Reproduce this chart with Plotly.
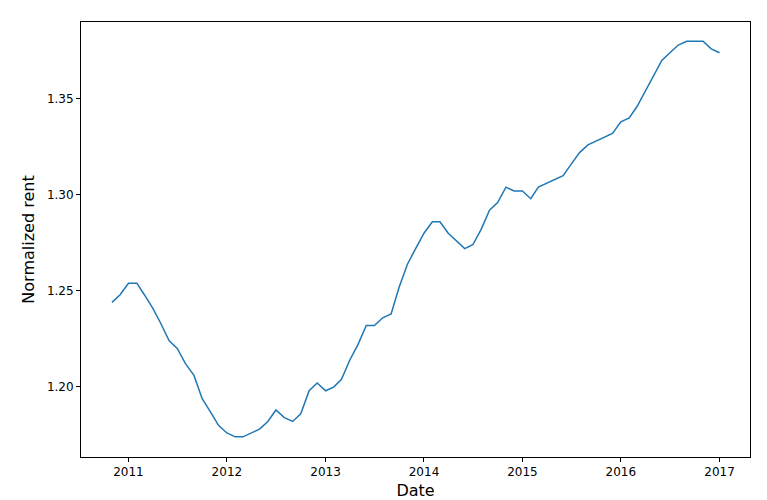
import pandas as pd
import plotly.graph_objects as go

dates = pd.date_range("2010-11-01", "2017-01-01", freq="MS")
rent = [1.244, 1.248, 1.254, 1.254, 1.248, 1.241, 1.233, 1.224, 1.220, 1.212,
        1.206, 1.194, 1.187, 1.180, 1.176, 1.174, 1.174, 1.176, 1.178, 1.182,
        1.188, 1.184, 1.182, 1.186, 1.198, 1.202, 1.198, 1.200, 1.204, 1.214,
        1.222, 1.232, 1.232, 1.236, 1.238, 1.252, 1.264, 1.272, 1.280, 1.286,
        1.286, 1.280, 1.276, 1.272, 1.274, 1.282, 1.292, 1.296, 1.304, 1.302,
        1.302, 1.298, 1.304, 1.306, 1.308, 1.310, 1.316, 1.322, 1.326, 1.328,
        1.330, 1.332, 1.338, 1.340, 1.346, 1.354, 1.362, 1.370, 1.374, 1.378,
        1.380, 1.380, 1.380, 1.376, 1.374]

fig = go.Figure(go.Scatter(x=dates, y=rent, mode="lines",
                           line=dict(color="#1f77b4", width=1.5)))
axis = dict(showgrid=False, zeroline=False, showline=True, mirror=True,
            linecolor="black", linewidth=1, ticks="outside", ticklen=4,
            tickcolor="black", tickfont=dict(size=12, color="black"),
            automargin=False)
fig.update_layout(
    width=767, height=500,
    margin=dict(l=73, r=25, t=14, b=51, autoexpand=False),
    plot_bgcolor="white", paper_bgcolor="white", showlegend=False,
    font=dict(family="DejaVu Sans", color="black"),
    xaxis=dict(axis, range=["2010-07-09", "2017-04-24"], dtick="M12",
               tickformat="%Y", title=dict(text="Date", font=dict(size=16), standoff=6)),
    yaxis=dict(axis, range=[1.1635, 1.390], tickvals=[1.20, 1.25, 1.30, 1.35],
               tickformat=".2f", title=dict(text="Normalized rent", font=dict(size=16), standoff=8)),
)
fig.write_html("out.html")
